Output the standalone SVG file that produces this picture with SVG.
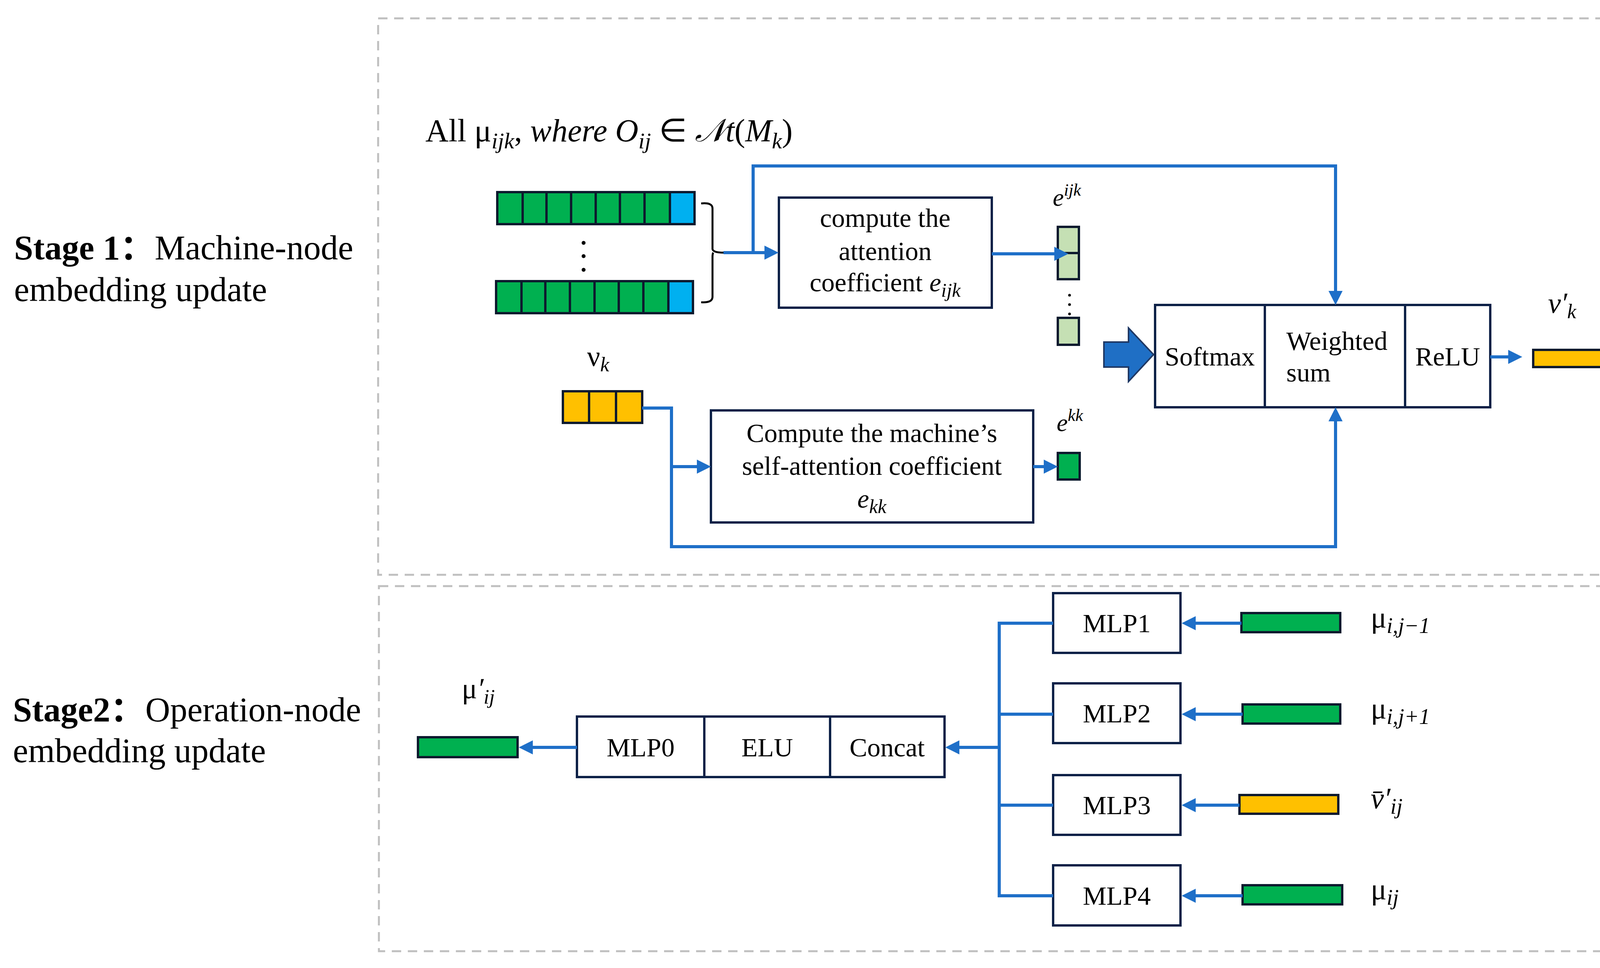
<svg xmlns="http://www.w3.org/2000/svg" width="4264" height="2479" viewBox="0 0 4264 2479">
<style>
.frame{fill:none;stroke:#bfbfbf;stroke-width:5;stroke-dasharray:24 17}
.box{fill:#ffffff;stroke:#0d2147;stroke-width:6}
.cell{stroke:#0d1a2e;stroke-width:6}
.g{fill:#00b050}
.b{fill:#00b0f0}
.y{fill:#ffc000}
.lg{fill:#c5e0b4}
.t{font-family:"Liberation Serif","Times New Roman",serif;font-size:68px;fill:#000}
.c{text-anchor:middle}
.m{font-family:"Liberation Serif","Times New Roman",serif;fill:#000}
.i{font-style:italic}
.st{font-family:"Liberation Serif","Times New Roman","Noto Sans CJK SC",serif;font-size:88px;fill:#000}
.bold{font-weight:bold}
.ln{fill:none;stroke:#1e6fc8;stroke-width:8}
.arr{marker-end:url(#ah)}
</style>
<defs>
<marker id="ah" markerUnits="userSpaceOnUse" markerWidth="36" markerHeight="36" viewBox="0 0 36 36" refX="6" refY="18" orient="auto">
<path d="M0,0 L36,18 L0,36 z" fill="#1e6fc8"/>
</marker>
</defs>
<rect width="4264" height="2479" fill="#ffffff"/>

<g id="frames">
<rect class="frame" x="968" y="47" width="3249" height="1425"/>
<rect class="frame" x="970" y="1501" width="3251" height="935"/>
</g>

<g id="stage-labels">
<text class="st" y="664"><tspan x="36" class="bold">Stage 1：</tspan><tspan x="396">Machine-node</tspan></text>
<text class="st" x="36" y="771">embedding update</text>
<text class="st" y="1847"><tspan x="33" class="bold">Stage2：</tspan><tspan x="372">Operation-node</tspan></text>
<text class="st" x="33" y="1952">embedding update</text>
</g>

<g id="title">
<text class="m" x="1089" y="362" font-size="82">All μ<tspan class="i" font-size="58" dy="18">ijk</tspan><tspan dy="-18">,</tspan><tspan class="i"> where O</tspan><tspan class="i" font-size="58" dy="18">ij</tspan><tspan dy="-18"> ∈ </tspan><tspan class="i">𝒩t</tspan><tspan>(</tspan><tspan class="i">M</tspan><tspan class="i" font-size="58" dy="18">k</tspan><tspan dy="-18">)</tspan></text>
</g>

<g id="neighbor-vectors">
<rect class="cell g" x="1273" y="492" width="505" height="82"/>
<rect class="cell b" x="1715" y="492" width="63" height="82"/>
<path class="cell" fill="none" d="M1338,492V574M1399,492V574M1462,492V574M1525,492V574M1587,492V574M1650,492V574"/>
<rect class="cell g" x="1270" y="720" width="504" height="82"/>
<rect class="cell b" x="1711" y="720" width="63" height="82"/>
<path class="cell" fill="none" d="M1335,720V802M1396,720V802M1459,720V802M1522,720V802M1584,720V802M1647,720V802"/>
<circle cx="1494" cy="622" r="5" fill="#000"/>
<circle cx="1494" cy="656" r="5" fill="#000"/>
<circle cx="1494" cy="691" r="5" fill="#000"/>
<path d="M1795,521 Q1824,518 1824,534 L1824,638 Q1826,647 1852,647 M1826,647 Q1824,650 1824,658 L1824,760 Q1824,776 1795,774" fill="none" stroke="#000" stroke-width="5"/>
</g>

<g id="attention-box">
<rect class="box" x="1994" y="506" width="545" height="282"/>
<text class="t c" x="2266" y="581">compute the</text>
<text class="t c" x="2266" y="666">attention</text>
<text class="t c" x="2266" y="746">coefficient <tspan class="i">e</tspan><tspan class="i" font-size="50" dy="14">ijk</tspan></text>
</g>

<g id="eijk-cells">
<text class="m i" x="2695" y="527" font-size="64">e<tspan font-size="44" dy="-26">ijk</tspan></text>
<rect class="cell lg" x="2708" y="581" width="54" height="67" stroke-width="5"/>
<rect class="cell lg" x="2708" y="648" width="54" height="67" stroke-width="5"/>
<circle cx="2738" cy="756" r="3.5" fill="#000"/>
<circle cx="2738" cy="780" r="3.5" fill="#000"/>
<circle cx="2738" cy="804" r="3.5" fill="#000"/>
<rect class="cell lg" x="2708" y="814" width="54" height="69" stroke-width="5"/>
</g>

<g id="vk-vector">
<text class="m" x="1503" y="937" font-size="74">ν<tspan class="i" font-size="52" dy="14">k</tspan></text>
<rect class="cell y" x="1441" y="1002" width="203" height="81"/>
<path class="cell" fill="none" d="M1508,1002V1083M1577,1002V1083"/>
</g>

<g id="self-attention-box">
<rect class="box" x="1820" y="1051" width="825" height="287"/>
<text class="t c" x="2232" y="1132">Compute the machine’s</text>
<text class="t c" x="2232" y="1216">self-attention coefficient</text>
<text class="t c i" x="2232" y="1300">e<tspan font-size="50" dy="14">kk</tspan></text>
</g>

<g id="ekk-cell">
<text class="m i" x="2705" y="1104" font-size="64">e<tspan font-size="44" dy="-26">kk</tspan></text>
<rect class="cell g" x="2708" y="1160" width="56" height="68" stroke-width="5"/>
</g>

<g id="big-arrow">
<path d="M2826,876 L2889,876 L2889,840 L2953,908 L2889,977 L2889,940 L2826,940 Z" fill="#1f6fc5" stroke="#1f3864" stroke-width="4"/>
</g>

<g id="aggregate-block">
<rect class="box" x="2957" y="781" width="858" height="262"/>
<path d="M3238,781V1043M3597,781V1043" stroke="#0d2147" stroke-width="6"/>
<text class="t c" x="3097" y="936">Softmax</text>
<text class="t" x="3293" y="896">Weighted</text>
<text class="t" x="3293" y="977">sum</text>
<text class="t c" x="3706" y="936">ReLU</text>
</g>

<g id="vk-out">
<text class="m i" x="3963" y="801" font-size="74">ν′<tspan font-size="52" dy="14">k</tspan></text>
<rect class="cell y" x="3925" y="896" width="220" height="44"/>
</g>

<g id="mu-out">
<text class="m" x="1182" y="1788" font-size="74">μ<tspan class="i">′</tspan><tspan class="i" font-size="52" dy="14">ij</tspan></text>
<rect class="cell g" x="1070" y="1888" width="255" height="51"/>
</g>

<g id="combine-block">
<rect class="box" x="1477" y="1835" width="941" height="155"/>
<path d="M1803,1835V1990M2125,1835V1990" stroke="#0d2147" stroke-width="6"/>
<text class="t c" x="1640" y="1937">MLP0</text>
<text class="t c" x="1964" y="1937">ELU</text>
<text class="t c" x="2271" y="1937">Concat</text>
</g>

<g id="mlp1">
<rect class="box" x="2696" y="1519" width="326" height="153"/>
<text class="t c" x="2859" y="1619">MLP1</text>
<rect class="cell g" x="3178" y="1570" width="253" height="49"/>
<text class="m" x="3509" y="1607" font-size="76">μ<tspan class="i" font-size="56" dy="14">i,j−1</tspan></text>
</g>
<g id="mlp2">
<rect class="box" x="2696" y="1750" width="326" height="153"/>
<text class="t c" x="2859" y="1850">MLP2</text>
<rect class="cell g" x="3181" y="1804" width="250" height="49"/>
<text class="m" x="3509" y="1840" font-size="76">μ<tspan class="i" font-size="56" dy="14">i,j+1</tspan></text>
</g>
<g id="mlp3">
<rect class="box" x="2696" y="1985" width="326" height="153"/>
<text class="t c" x="2859" y="2085">MLP3</text>
<rect class="cell y" x="3173" y="2036" width="253" height="48"/>
<text class="m i" x="3509" y="2070" font-size="76">v̄′<tspan font-size="56" dy="14">ij</tspan></text>
</g>
<g id="mlp4">
<rect class="box" x="2696" y="2216" width="326" height="154"/>
<text class="t c" x="2859" y="2317">MLP4</text>
<rect class="cell g" x="3181" y="2267" width="255" height="49"/>
<text class="m" x="3509" y="2303" font-size="76">μ<tspan class="i" font-size="56" dy="14">ij</tspan></text>
</g>

<g id="connectors">
<path class="ln arr" d="M1852,647 L1963,647"/>
<path class="ln arr" d="M1928,647 L1928,425 L3419,425 L3419,751"/>
<path class="ln arr" d="M2539,650 L2705,650"/>
<path class="ln arr" d="M1644,1045 L1719,1045 L1719,1400 L3419,1400 L3419,1073"/>
<path class="ln arr" d="M1719,1195 L1790,1195"/>
<path class="ln arr" d="M2645,1195 L2678,1195"/>
<path class="ln arr" d="M3815,914 L3867,914"/>
<path class="ln arr" d="M1477,1914 L1358,1914"/>
<path class="ln arr" d="M2558,1914 L2450,1914"/>
<path class="ln" d="M2696,1596 L2558,1596 L2558,2294 L2696,2294 M2558,1829 L2696,1829 M2558,2062 L2696,2062"/>
<path class="ln arr" d="M3178,1596 L3055,1596"/>
<path class="ln arr" d="M3181,1829 L3055,1829"/>
<path class="ln arr" d="M3173,2062 L3055,2062"/>
<path class="ln arr" d="M3181,2294 L3055,2294"/>
</g>
</svg>
